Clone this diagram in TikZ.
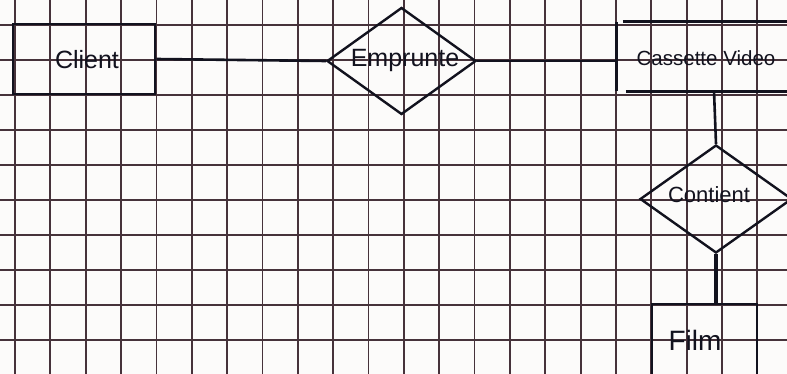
\documentclass[tikz,border=0pt]{standalone}
\usepackage{fontspec}
\setmainfont{Liberation Sans}
\usetikzlibrary{shapes.geometric}
\definecolor{gridc}{RGB}{70,50,58}
\definecolor{ink}{RGB}{18,18,30}
\definecolor{paper}{RGB}{252,251,250}
\newcommand{\fsz}[1]{\fontsize{#1}{#1}\selectfont}
\begin{document}
\begin{tikzpicture}[x=1pt,y=-1pt,
  ink/.style={draw=ink,line width=2.8pt},
  entity/.style={ink,rectangle,inner sep=0pt},
  relation/.style={draw=ink,line width=2.4pt,diamond,inner sep=0pt},
  lbl/.style={text=ink,inner sep=0pt},
  conn/.style={draw=ink,line width=2.6pt}]
\useasboundingbox (0,0) rectangle (787,374);
\clip (0,0) rectangle (787,374);
\fill[paper] (0,0) rectangle (787,374);
% grid
\foreach \k in {0,...,21} \draw[gridc,line width=1.8pt] ({15+35.35*\k},0) -- ({15+35.35*\k},374);
\foreach \k in {0,...,9} \draw[gridc,line width=1.8pt] (0,{25+35*\k}) -- (787,{25+35*\k});
% entities
\node[entity,minimum width=142pt,minimum height=70pt] (client) at (84,59) {};
\node[lbl,font=\fsz{25}] (clientlbl) at (87,60) {Client};
\node[relation,minimum width=149pt,minimum height=107pt] (emprunte) at (401.5,61) {};
\node[lbl,font=\fsz{25}] (empruntelbl) at (405,60) {Emprunte};
\node[inner sep=0pt,minimum width=220pt,minimum height=69pt] (cassette) at (727,56.5) {};
\draw[ink] (cassette.north west) -- (cassette.south west);
\draw[ink] ([xshift=6pt]cassette.north west) -- (cassette.north east);
\draw[ink] ([xshift=9pt]cassette.south west) -- (cassette.south east);
\node[lbl,font=\fsz{20.5}] (cassettelbl) at (706,58) {Cassette Video};
\node[relation,minimum width=152pt,minimum height=108pt] (contient) at (716,199) {};
\node[lbl,font=\fsz{22}] (contientlbl) at (709,195) {Contient};
\node[entity,minimum width=105pt,minimum height=74pt] (film) at (704.5,341) {};
\node[lbl,font=\fsz{28}] (filmlbl) at (695,340) {Film};
\coordinate (cassbot) at (714,91);
% connectors
\draw[conn] (client.east) -- (emprunte.west);
\draw[conn] (emprunte.east) -- (emprunte.east -| cassette.west);
\draw[conn] (cassbot) -- (contient.north);
\draw[conn,line width=3.4pt] (contient.south) -- (contient.south |- film.north);
\end{tikzpicture}
\end{document}
